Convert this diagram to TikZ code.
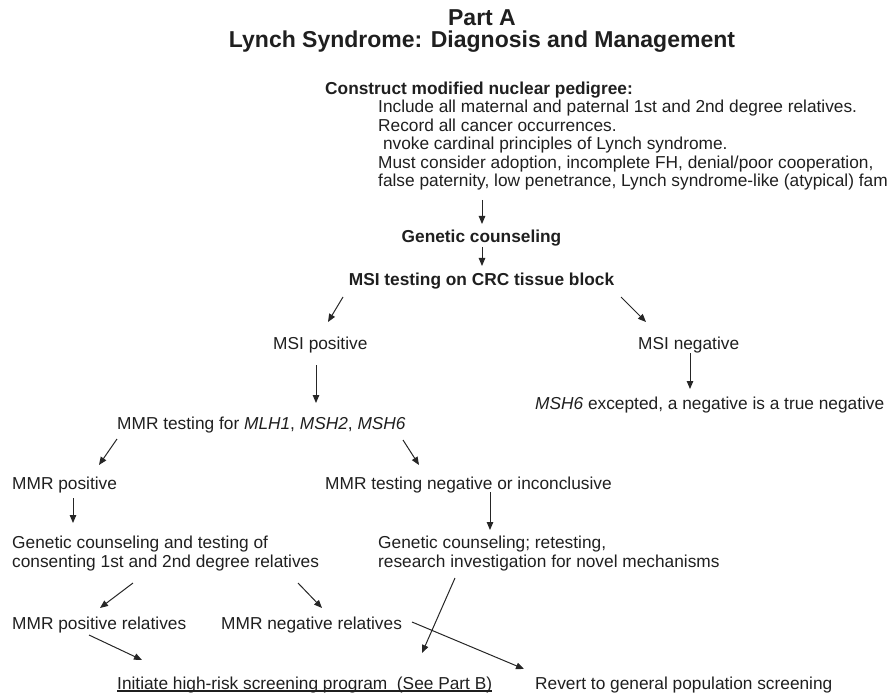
\documentclass[tikz,border=0pt]{standalone}
\usepackage{fontspec}
\setmainfont{Liberation Sans}
\usetikzlibrary{arrows.meta}
\begin{document}
\begin{tikzpicture}[x=1pt,y=-1pt,
  txt/.style={inner sep=0pt, anchor=base west, text=black!88, font=\fontsize{17.3}{18.5}\selectfont, align=left},
  bld/.style={inner sep=0pt, anchor=base, text=black!88, font=\fontsize{17.3}{19}\selectfont\bfseries},
  ttl/.style={inner sep=0pt, anchor=base, text=black!88, font=\fontsize{23}{24}\selectfont\bfseries},
  arr/.style={-{Triangle[length=8pt,width=6.5pt]}, line width=1pt, black!85}]
\useasboundingbox (0,0) rectangle (889,695);
% titles
\node[ttl] (ta) at (482,26) {Part A};
\node[ttl] (tb) at (482,48) {Lynch Syndrome: Diagnosis and Management};
% pedigree (multi-line nodes: base = baseline of last line)
\node[txt, font=\fontsize{17.3}{18.5}\selectfont\bfseries] (ped) at (325,95) {Construct modified nuclear pedigree:};
\node[txt, font=\fontsize{17.3}{18.5}\selectfont] (pedl) at (378,187) {Include all maternal and paternal 1st and 2nd degree relatives.\\Record all cancer occurrences.\\\hspace*{4.8pt}nvoke cardinal principles of Lynch syndrome.\\Must consider adoption, incomplete FH, denial/poor cooperation,\\false paternity, low penetrance, Lynch syndrome-like (atypical) fam};
\node[bld] (gc) at (481.5,243) {Genetic counseling};
\node[bld] (msi) at (481.5,285) {MSI testing on CRC tissue block};
\node[txt] (msip) at (273,349) {MSI positive};
\node[txt] (msin) at (638,349) {MSI negative};
\node[txt] (neg) at (535,409) {\textit{MSH6} excepted, a negative is a true negative};
\node[txt] (mmr) at (117,429) {MMR testing for \textit{MLH1}, \textit{MSH2}, \textit{MSH6}};
\node[txt] (mmrp) at (12,489) {MMR positive};
\node[txt] (mmrn) at (325,489) {MMR testing negative or inconclusive};
\node[txt] (gct) at (12,567) {Genetic counseling and testing of\\consenting 1st and 2nd degree relatives};
\node[txt] (gcr) at (378,567) {Genetic counseling; retesting,\\research investigation for novel mechanisms};
\node[txt] (pr) at (12,629) {MMR positive relatives};
\node[txt] (nr) at (221,629) {MMR negative relatives};
\node[txt] (ini) at (117,689) {Initiate high-risk screening program\ \ (See Part B)};
\node[txt] (rev) at (535,689) {Revert to general population screening};
\draw[line width=1.5pt, black!88] ([yshift=-2.2pt]ini.base west) -- ([yshift=-2.2pt]ini.base east);
% arrow end points
\coordinate (a1s) at (482,200); \coordinate (a1e) at (482,224);
\coordinate (a2s) at (482,247); \coordinate (a2e) at (482,266);
\coordinate (a3s) at (343,297); \coordinate (a3e) at (328,322);
\coordinate (a4s) at (621,297); \coordinate (a4e) at (646,322);
\coordinate (a5s) at (316,365); \coordinate (a5e) at (316,403);
\coordinate (a6s) at (690,353); \coordinate (a6e) at (690,389);
\coordinate (a7s) at (117,439); \coordinate (a7e) at (99,465);
\coordinate (a8s) at (403,440); \coordinate (a8e) at (419,465);
\coordinate (a9s) at (73,498); \coordinate (a9e) at (73,523);
\coordinate (a10s) at (490,492); \coordinate (a10e) at (490,530);
\coordinate (a11s) at (133,583); \coordinate (a11e) at (100,608);
\coordinate (a12s) at (298,583); \coordinate (a12e) at (322,608);
\coordinate (a13s) at (89,635); \coordinate (a13e) at (142,660);
\coordinate (a14s) at (455,578); \coordinate (a14e) at (422,653);
\coordinate (a15s) at (412,622); \coordinate (a15e) at (524,669);
\foreach \i in {1,...,15} {\draw[arr] (a\i s) -- (a\i e);}
\end{tikzpicture}
\end{document}
